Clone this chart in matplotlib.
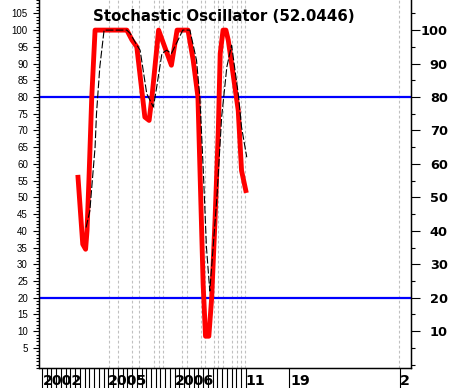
import matplotlib
matplotlib.use("Agg")
import matplotlib.pyplot as plt
from matplotlib.ticker import MultipleLocator, FixedLocator, NullFormatter

# %K line (fast) and %D line (slow), x in period index
k_x = [7.6, 8.2, 8.6, 9.2, 9.5, 9.9, 10.5, 11.2, 17.9, 19.0, 20.0, 21.3, 21.7, 22.6,
       23.2, 24.6, 27.3, 28.5, 30.8, 31.9, 32.9, 34.0, 34.5, 35.2, 35.8, 36.5, 37.2,
       37.6, 38.2, 38.8, 39.3, 40.4, 41.4, 42.1, 43.0]
k_y = [56, 44, 36, 34.5, 40, 55, 80, 100, 100, 97, 95, 79, 74, 73,
       80, 100, 89.5, 100, 100, 91, 80, 24, 8.5, 8.5, 20, 43, 70,
       93, 100, 100, 97, 86, 76, 58, 52.0446]

d_x = [9.3, 10.1, 10.5, 11.2, 11.5, 12.2, 13.1, 17.9, 18.6, 19.8, 20.7, 22.1, 23.5,
       24.2, 25.3, 26.3, 27.3, 28.7, 29.7, 31.2, 32.6, 33.3, 34.0, 34.7, 35.4, 36.1,
       36.9, 37.9, 39.0, 40.0, 41.4, 42.1, 43.2]
d_y = [41, 46, 53, 65, 75, 89, 100, 100, 99, 96, 94, 81, 77,
       83, 93, 94, 93, 97, 100, 100, 91, 80, 59, 35, 22, 35,
       50, 74, 89, 95.5, 81, 71, 62]

grid_x = [14.2, 16.1, 18.9, 20.5, 23.7, 24.7, 25.6, 29.5, 30.5, 33.5, 34.4, 36.3,
          37.2, 38.1, 40.0, 41.1, 42.0, 42.8, 75.4]
tick_x = list(range(0, 44)) + [52.2, 75.5]
label_x = [0.2, 14.0, 28.0, 43.0, 52.4, 75.6]
label_txt = ["2002", "2005", "2006", "11", "19", "2"]

levels = [80, 20]
last_val = k_y[-1]

fig = plt.figure(figsize=(4.5, 3.88), dpi=100)
ax = fig.add_axes([39 / 450, 20 / 388, 372 / 450, 368 / 388])
ax.set_xlim(-0.63, 77.85)
ax.set_ylim(-1.0, 109.0)

for gx in grid_x:
    ax.axvline(gx, color="#c0c0c0", lw=0.8, ls=(0, (2.5, 2)), zorder=1)
for lv in levels:
    ax.axhline(lv, color="#0000ff", lw=1.6, zorder=2)

ax.plot(k_x, k_y, color="#ff0000", lw=3.5, zorder=3, solid_joinstyle="round")
ax.plot(d_x, d_y, color="black", lw=0.8, dashes=(7, 2), zorder=4)

ax.spines["top"].set_visible(False)
for s in ["left", "right", "bottom"]:
    ax.spines[s].set_linewidth(1.0)

# left axis: small labels every 5, minor ticks every 1
ax.yaxis.set_major_locator(FixedLocator(list(range(5, 106, 5))))
ax.yaxis.set_minor_locator(MultipleLocator(1))
ax.tick_params(axis="y", which="major", length=4.5, width=0.8, pad=3.5,
               labelsize=7)
ax.tick_params(axis="y", which="minor", length=2, width=0.8)
for lb in ax.get_yticklabels():
    lb.set_family(["Liberation Sans Narrow", "Liberation Sans"])

# x ticks: long tick lines under the axis
ax.xaxis.set_major_locator(FixedLocator(tick_x))
ax.xaxis.set_major_formatter(NullFormatter())
ax.tick_params(axis="x", which="major", length=14.5, width=0.8, direction="out")

for lx, lt in zip(label_x, label_txt):
    ax.text(lx, -19.8 / 368, lt, transform=ax.get_xaxis_transform(),
            ha="left", va="bottom", fontsize=10.3, fontweight="bold",
            family="DejaVu Sans", zorder=5, clip_on=False)

# right axis
ax2 = ax.twinx()
ax2.set_ylim(ax.get_ylim())
ax2.spines["top"].set_visible(False)
ax2.yaxis.set_major_locator(FixedLocator(list(range(10, 101, 10))))
ax2.yaxis.set_minor_locator(FixedLocator([0] + list(range(5, 106, 10))))
ax2.tick_params(axis="y", which="major", length=6.5, width=0.8, pad=20,
                labelsize=9.3)
ax2.tick_params(axis="y", which="minor", length=3, width=0.8)
for lb in ax2.get_yticklabels():
    lb.set_fontweight("bold")
    lb.set_horizontalalignment("right")

# title, centred near x = 224 px
ax.text((224 - 39) / 372, 1 - 21 / 368, f"Stochastic Oscillator ({last_val:.4f})",
        transform=ax.transAxes, ha="center", va="baseline",
        fontsize=10.8, fontweight="bold", family="DejaVu Sans")

fig.savefig("out.png", dpi=100)
